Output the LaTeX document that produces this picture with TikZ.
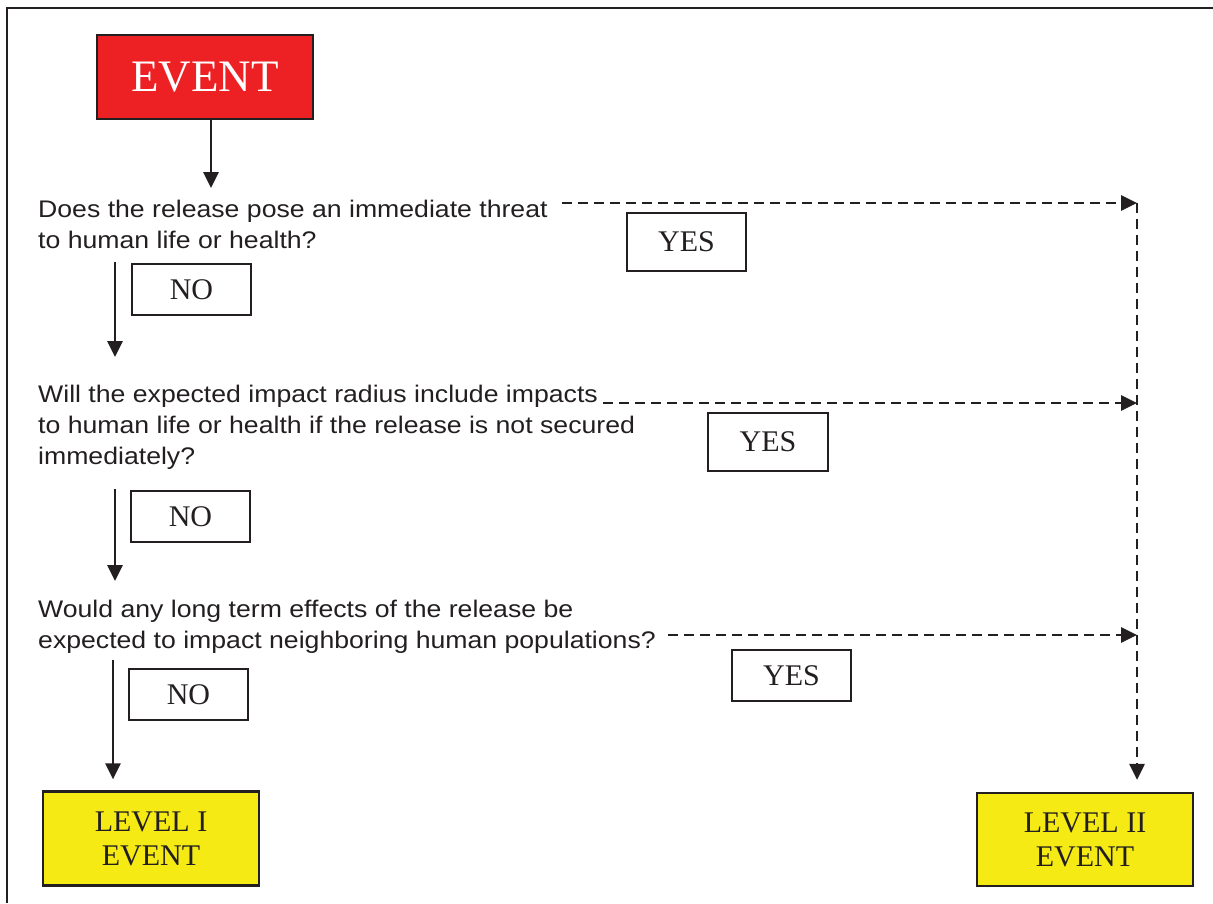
\documentclass[tikz,border=0pt]{standalone}
\usepackage{fontspec}
\setmainfont{Liberation Serif}
\newfontfamily\qfont[FakeStretch=1.11]{Liberation Sans}
\usetikzlibrary{arrows.meta}
\definecolor{ink}{RGB}{35,31,32}
\definecolor{evred}{RGB}{237,32,36}
\definecolor{evyellow}{RGB}{245,234,20}
\begin{document}
\begin{tikzpicture}[x=1pt,y=-1pt,
  box/.style={draw=ink,line width=2.2pt,inner sep=0pt,align=center,text=ink,
    font=\fontsize{30}{34}\selectfont},
  ansbox/.style={box,minimum width=119pt,minimum height=51pt},
  lvlbox/.style={box,fill=evyellow,minimum width=216pt,minimum height=94pt},
  question/.style={anchor=north west,inner sep=0pt,align=left,text=ink,
    font=\qfont\fontsize{24}{31}\selectfont},
  flow/.style={draw=ink,line width=2.8pt,-{Triangle[length=16pt,width=15pt]}},
  yesflow/.style={flow,dash pattern=on 10pt off 6pt},
  frame/.style={draw=ink,line width=2.4pt}]
\useasboundingbox (0,0) rectangle (1213,903);
\draw[frame] (7,903) -- (7,8) -- (1213,8);

\node[box,fill=evred,text=white,minimum width=216pt,minimum height=84pt,
  font=\fontsize{45}{50}\selectfont] (event) at (205,77) {EVENT};

\node[question] (q1) at (38,199.5) {Does the release pose an immediate threat\\to human life or health?};
\node[question] (q2) at (38,384.5) {Will the expected impact radius include impacts\\to human life or health if the release is not secured\\immediately?};
\node[question] (q3) at (38,599.5) {Would any long term effects of the release be\\expected to impact neighboring human populations?};

\node[ansbox,minimum height=58pt] (yes1) at (686.5,242) {YES};
\node[ansbox] (no1) at (191.5,289.5) {NO};
\node[ansbox,minimum width=120pt,minimum height=58pt] (yes2) at (768,442) {YES};
\node[ansbox] (no2) at (190.5,516.5) {NO};
\node[ansbox] (yes3) at (791.5,675.5) {YES};
\node[ansbox] (no3) at (188.5,694.5) {NO};

\node[lvlbox] (lvl1) at (151,838.5) {LEVEL I\\EVENT};
\node[lvlbox,minimum height=93pt] (lvl2) at (1085,839.5) {LEVEL II\\EVENT};

% solid NO flow
\coordinate (a0) at (211,188);
\coordinate (b1) at (115,262);
\coordinate (a1) at (115,357);
\coordinate (b2) at (115,489);
\coordinate (a2) at (115,581);
\coordinate (b3) at (113,660);
\draw[flow] ([xshift=6pt]event.south) -- (a0);
\draw[flow] (b1) -- (a1);
\draw[flow] (b2) -- (a2);
\draw[flow] (b3) -- ([yshift=11pt]b3 |- lvl1.north);

% dashed YES flow
\coordinate (s1) at (562,203);
\coordinate (s2) at (603,403);
\coordinate (s3) at (668,635);
\coordinate (j1) at (1137,203);
\coordinate (j2) at (1137,403);
\coordinate (j3) at (1137,635);
\draw[yesflow] (s1) -- (j1);
\draw[yesflow] (s2) -- (j2);
\draw[yesflow] (s3) -- (j3);
\draw[yesflow] (j1) -- ([yshift=12pt]j1 |- lvl2.north);
\end{tikzpicture}
\end{document}
